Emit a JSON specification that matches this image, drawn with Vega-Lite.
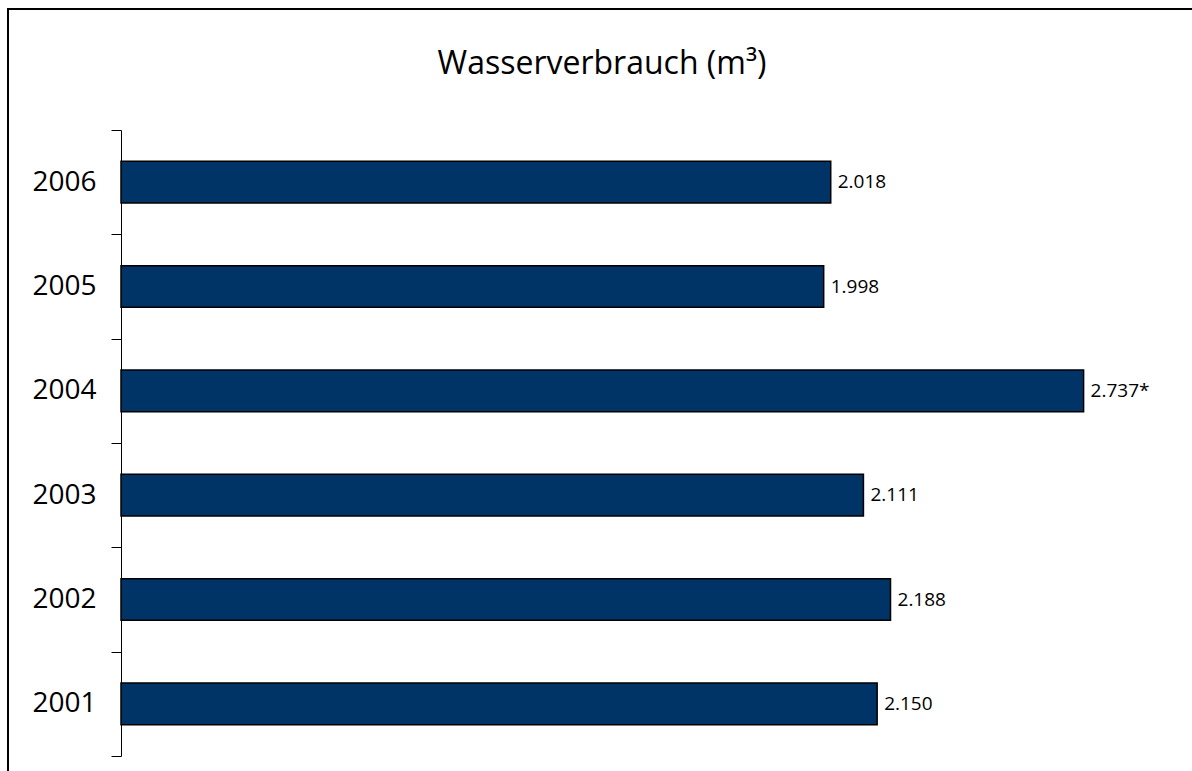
{
  "$schema": "https://vega.github.io/schema/vega-lite/v6.json",
  "width": 1188,
  "height": 870,
  "autosize": {"type": "none"},
  "padding": {"left": 8, "top": 9, "right": 0, "bottom": 0},
  "background": "white",
  "title": {"text": "Wasserverbrauch (m³)", "font": "Open Sans", "fontSize": 32, "fontWeight": 500, "color": "black", "anchor": "middle", "frame": "group", "baseline": "alphabetic", "offset": -111},
  "config": {"view": {"stroke": "black", "strokeWidth": 2}},
  "data": {"values": [
    {"year": "2006", "value": 2018, "label": "2.018"},
    {"year": "2005", "value": 1998, "label": "1.998"},
    {"year": "2004", "value": 2737, "label": "2.737*"},
    {"year": "2003", "value": 2111, "label": "2.111"},
    {"year": "2002", "value": 2188, "label": "2.188"},
    {"year": "2001", "value": 2150, "label": "2.150"}
  ]},
  "encoding": {
    "y": {"field": "year", "type": "nominal", "sort": ["2006", "2005", "2004", "2003", "2002", "2001"],
      "scale": {"range": [121, 747], "paddingInner": 0, "paddingOuter": 0},
      "axis": {"title": null, "offset": -113, "domainColor": "black", "domainWidth": 1, "tickColor": "black", "tickWidth": 1, "tickSize": 10, "tickBand": "extent", "labelFont": "Open Sans", "labelFontSize": 28, "labelColor": "black", "labelPadding": 15, "grid": false}}
  },
  "layer": [
    {"mark": {"type": "bar", "fill": "#003366", "stroke": "black", "strokeWidth": 1.5, "height": {"band": 0.4}},
     "encoding": {
       "x": {"field": "value", "type": "quantitative", "scale": {"domain": [-321.3, 3056.6], "nice": false, "zero": false}, "axis": null},
       "x2": {"datum": 0}
     }},
    {"mark": {"type": "text", "align": "left", "baseline": "middle", "dx": 7, "font": "Open Sans", "fontSize": 19, "color": "black"},
     "encoding": {
       "x": {"field": "value", "type": "quantitative"},
       "text": {"field": "label"}
     }}
  ]
}
